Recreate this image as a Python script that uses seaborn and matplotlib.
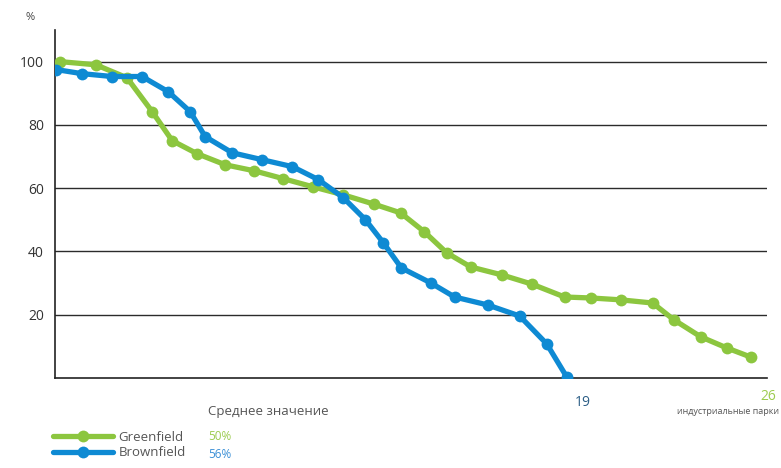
import matplotlib
matplotlib.use("Agg")
import matplotlib.pyplot as plt
import seaborn as sns
import pandas as pd

# ---- data ----
green_x = [0.19, 1.53, 2.69, 3.63, 4.38, 5.31, 6.36, 7.44, 8.53, 9.65, 10.77, 11.90, 12.91,
           13.80, 14.63, 15.53, 16.69, 17.81, 19.04, 20.01, 21.14, 22.33, 23.12, 24.13, 25.10, 26.0]
green_y = [100, 99, 94.9, 84.2, 75, 70.9, 67.4, 65.5, 63, 60.4, 57.9, 55, 52.2,
           46.2, 39.6, 35.1, 32.6, 29.7, 25.6, 25.3, 24.7, 23.7, 18.4, 13, 9.5, 6.6]
blue_x = [0.04, 1.01, 2.13, 3.25, 4.23, 5.05, 5.61, 6.62, 7.74, 8.87, 9.84, 10.77, 11.6,
          12.27, 12.94, 14.03, 14.93, 16.16, 17.36, 18.37, 19.12]
blue_y = [97.5, 96.2, 95.3, 95.3, 90.5, 84.2, 76.3, 71.2, 69, 66.8, 62.7, 57, 50,
          42.7, 34.8, 30.1, 25.6, 23.1, 19.6, 10.8, 0.3]
series_names = ["Greenfield", "Brownfield"]
series_means = ["50%", "56%"]
end_labels = ["26", "19"]
y_ticks = [20, 40, 60, 80, 100]

GREEN = "#8cc63f"
BLUE = "#0e8ad3"

df = pd.concat([
    pd.DataFrame({"x": green_x, "y": green_y, "s": series_names[0]}),
    pd.DataFrame({"x": blue_x, "y": blue_y, "s": series_names[1]}),
], ignore_index=True)

sns.set_theme(style="white")
plt.rcParams["font.family"] = ["Open Sans", "DejaVu Sans"]

W, H = 781, 468
fig = plt.figure(figsize=(W / 100, H / 100), dpi=100)
ax = fig.add_axes([55 / W, 1 - 378 / H, (767 - 55) / W, (378 - 30) / H])

sns.lineplot(data=df, x="x", y="y", hue="s", palette=[GREEN, BLUE], sort=False,
             marker="o", markersize=8.5, markeredgewidth=0, linewidth=3.8, ax=ax,
             legend=True, zorder=3)

ax.set_xlim(0, 26.6)
ax.set_ylim(0, 110)
ax.set_yticks(y_ticks)
ax.set_xticks([])
ax.set_xlabel("")
ax.set_ylabel("")
ax.tick_params(axis="y", length=0, pad=8, labelsize=10, labelcolor="#333333")
for yv in y_ticks:
    ax.axhline(yv, color="#2b2b2b", linewidth=1.0, zorder=1)
for side in ["top", "right"]:
    ax.spines[side].set_visible(False)
for side in ["left", "bottom"]:
    ax.spines[side].set_color("#222222")
    ax.spines[side].set_linewidth(1.2)

# legend
handles, labels = ax.get_legend_handles_labels()
ax.get_legend().remove()
fig.legend(handles, labels, loc="upper left", bbox_to_anchor=(46 / W, 1 - 424 / H),
           frameon=False, fontsize=9.5, handlelength=4.6, handletextpad=0.4,
           labelspacing=0.2, borderpad=0, labelcolor="#555555")

fig.text(30 / W, 1 - 18 / H, "%", fontsize=8, color="#444444", ha="center", va="center")
fig.text(208 / W, 1 - 411 / H, "Среднее значение", fontsize=9.5, color="#555555",
         ha="left", va="center")
fig.text(208 / W, 1 - 436 / H, series_means[0], fontsize=8.5, color="#9ccb4e",
         ha="left", va="center")
fig.text(208 / W, 1 - 454 / H, series_means[1], fontsize=8.5, color="#3a8fd6",
         ha="left", va="center")
fig.text(583 / W, 1 - 403 / H, end_labels[1], fontsize=10, color="#2c5e86",
         ha="center", va="center")
fig.text(768 / W, 1 - 397 / H, end_labels[0], fontsize=10, color="#9ccb4e",
         ha="center", va="center")
fig.text(779 / W, 1 - 412 / H, "индустриальные парки", fontsize=6.5, color="#555555",
         ha="right", va="center")

fig.savefig("out.png", dpi=100)
